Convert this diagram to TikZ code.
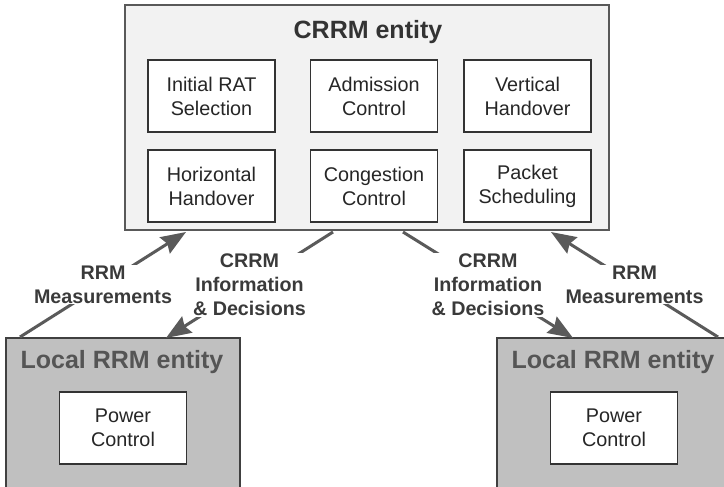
\documentclass[tikz,border=0pt]{standalone}
\usepackage{fontspec}
\setmainfont{Liberation Sans}
\usetikzlibrary{arrows.meta}
\definecolor{arrowgray}{HTML}{5A5A5A}
\definecolor{lblgray}{HTML}{3A3A3A}
\definecolor{crrmfill}{HTML}{F2F2F2}
\definecolor{localfill}{HTML}{C0C0C0}
\definecolor{localtitle}{HTML}{555555}
\begin{document}
\begin{tikzpicture}[x=1pt,y=-1pt,
  fnbox/.style={draw=black!80,line width=1.3pt,fill=white,minimum width=127pt,minimum height=72pt,inner sep=0pt,align=center,font=\fontsize{19.8}{24}\selectfont,text=black!85},
  crrmbox/.style={draw=black!65,line width=1.2pt,fill=crrmfill,minimum width=484pt,minimum height=225pt,inner sep=0pt},
  localbox/.style={draw=black!75,line width=1.2pt,fill=localfill,minimum height=160pt,inner sep=0pt},
  ttl/.style={font=\fontsize{25}{28}\selectfont\bfseries,inner sep=0pt},
  conn/.style={draw=arrowgray,line width=3pt,-{Stealth[length=25pt,width=19pt,inset=3pt]}},
  lbl/.style={fill=white,inner sep=1pt,align=center,font=\fontsize{19.7}{24}\selectfont\bfseries,text=lblgray}]
\useasboundingbox[fill=white] (0,0) rectangle (724,487);
% CRRM entity
\node[crrmbox] (crrm) at (367,117.5) {};
\node[ttl,text=black!80] (crrmt) at (368,32) {CRRM entity};
\node[fnbox] (irs) at (211.5,96) {Initial RAT\\Selection};
\node[fnbox] (ac) at (374,96) {Admission\\Control};
\node[fnbox] (vh) at (527.5,96) {Vertical\\Handover};
\node[fnbox] (hh) at (211.5,186) {Horizontal\\Handover};
\node[fnbox] (cc) at (374,186) {Congestion\\Control};
\node[fnbox] (ps) at (527.5,186) {Packet\\Scheduling};
% Local entities
\node[localbox,minimum width=234pt] (locl) at (123,418) {};
\node[localbox,minimum width=243pt] (locr) at (618.5,418) {};
\node[ttl,text=localtitle] (loclt) at (122,362) {Local RRM entity};
\node[ttl,text=localtitle] (locrt) at (613,362) {Local RRM entity};
\node[fnbox] (pcl) at (123,428) {Power\\Control};
\node[fnbox] (pcr) at (614,428) {Power\\Control};
% connector end points
\coordinate (a1) at (20,337);
\coordinate (a2) at (186,232);
\coordinate (b1) at (333,232);
\coordinate (b2) at (166,338);
\coordinate (c1) at (403,232);
\coordinate (c2) at (573,338);
\coordinate (d1) at (718,337);
\coordinate (d2) at (551,232);
\draw[conn] (a1) -- node[lbl] {RRM\\Measurements} (a2);
\draw[conn] (b1) -- node[lbl] {CRRM\\Information\\\& Decisions} (b2);
\draw[conn] (c1) -- node[lbl] {CRRM\\Information\\\& Decisions} (c2);
\draw[conn] (d1) -- node[lbl] {RRM\\Measurements} (d2);
\end{tikzpicture}
\end{document}
